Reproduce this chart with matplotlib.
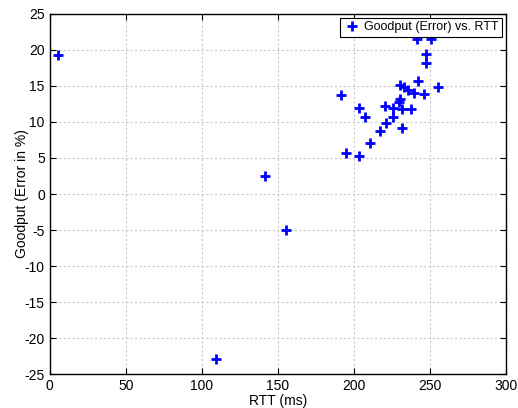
import matplotlib
matplotlib.use("Agg")
import matplotlib.pyplot as plt

plt.rcParams['font.family'] = ['Liberation Sans', 'DejaVu Sans']
plt.rcParams['axes.unicode_minus'] = False

rtt_ms = [5.5, 109.5, 141.5, 155.6,
          241.5, 250.7, 247.4, 247.4, 241.9, 255.3, 230.1, 232.7, 235.4, 239.3,
          246.3, 191.7, 230.3, 229.7, 203.6, 220.6, 225.5, 231.4, 237.5, 207.5,
          225.5, 220.9, 231.6, 217.0, 210.6, 194.6, 203.6]
goodput_err = [19.3, -22.9, 2.5, -5.0,
               21.5, 21.5, 19.4, 18.2, 15.7, 14.85, 15.1, 14.85, 14.4, 14.0,
               13.9, 13.75, 13.15, 12.7, 12.0, 12.27, 12.0, 11.76, 11.76, 10.7,
               10.74, 9.86, 9.1, 8.75, 7.08, 5.7, 5.3]

x_ticks = [0, 50, 100, 150, 200, 250, 300]
y_ticks = [-25, -20, -15, -10, -5, 0, 5, 10, 15, 20, 25]

fig = plt.figure(figsize=(5.18, 4.08), dpi=100)
ax = fig.add_axes([0.096, 0.083, 0.881, 0.883])

ax.plot(rtt_ms, goodput_err, linestyle='none', marker='+', color='#0000ff',
        markersize=7.5, markeredgewidth=2, label='Goodput (Error) vs. RTT')

ax.set_xlim(0, 300)
ax.set_ylim(-25, 25)
ax.set_xticks(x_ticks)
ax.set_yticks(y_ticks)
ax.tick_params(direction='in', top=True, right=True, labelsize=10, length=4)
ax.grid(True, linestyle=(0, (2, 2)), color='#c8c8c8', linewidth=0.8)
for s in ax.spines.values():
    s.set_linewidth(1.0)

ax.set_xlabel('RTT (ms)', fontsize=10, labelpad=1)
ax.set_ylabel('Goodput (Error in %)', fontsize=10, labelpad=-3)

leg = ax.legend(loc='upper right', fontsize=9, fancybox=False, framealpha=1,
                edgecolor='black', borderpad=0.3, handletextpad=0.4,
                handlelength=1.2, borderaxespad=0.3)
leg.get_frame().set_linewidth(0.8)

fig.savefig('out.png', dpi=100)
